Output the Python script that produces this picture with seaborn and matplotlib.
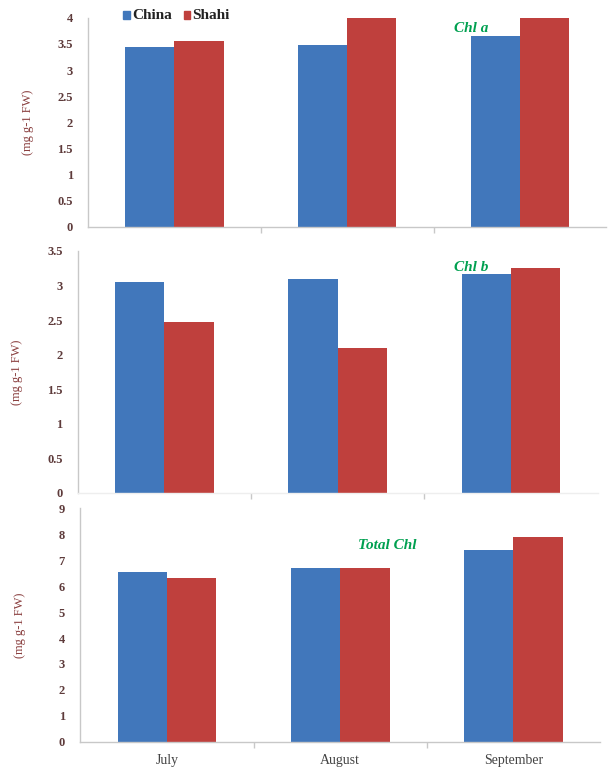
import numpy as np
import pandas as pd
import seaborn as sns
import matplotlib.pyplot as plt
from matplotlib.patches import Rectangle

# Data
months = ["July", "August", "September"]
varieties = ["China", "Shahi"]
chl_a_china = [3.44, 3.48, 3.66]
chl_a_shahi = [3.56, 4.20, 4.30]
chl_b_china = [3.05, 3.10, 3.17]
chl_b_shahi = [2.47, 2.10, 3.26]
total_china = [6.54, 6.69, 7.38]
total_shahi = [6.31, 6.69, 7.88]

panel_titles = ["Chl a", "Chl b", "Total Chl"]
y_limits = [4, 3.5, 9]
y_steps = [0.5, 0.5, 1]

colors = {"China": "#4177BB", "Shahi": "#BF403D"}
label_col = "#5E3B3B"
ylab_col = "#8A3F3F"
spine_col = "#C8C8C8"

sns.set_theme(style="white")
plt.rcParams['font.family'] = ['Liberation Serif', 'DejaVu Serif']

def make_df(china, shahi):
    return pd.DataFrame({
        "month": months * 2,
        "variety": ["China"] * 3 + ["Shahi"] * 3,
        "value": china + shahi,
    })

frames = [make_df(chl_a_china, chl_a_shahi),
          make_df(chl_b_china, chl_b_shahi),
          make_df(total_china, total_shahi)]

fig = plt.figure(figsize=(6.08, 7.72), dpi=100)
# axes boxes in figure fractions: left, bottom, width, height
boxes = [[0.145, 0.706, 0.852, 0.271],
         [0.128, 0.3614, 0.855, 0.3135],
         [0.132, 0.0389, 0.855, 0.303]]
# annotation positions in data coords
ann_pos = [(1.62, 3.8), (1.67, 3.26), (1.10, 7.55)]

for i, df in enumerate(frames):
    ax = fig.add_axes(boxes[i])
    sns.barplot(data=df, x="month", y="value", hue="variety", palette=colors,
                width=0.57, saturation=1, ax=ax, legend=False,
                errorbar=None, edgecolor="none")
    ax.set_xlim(-0.5, 2.5)
    ax.set_ylim(0, y_limits[i])
    ticks = np.arange(0, y_limits[i] + 0.01, y_steps[i])
    ax.set_yticks(ticks)
    ax.set_yticklabels([f"{t:g}" for t in ticks], fontsize=9, color=label_col,
                       fontweight="bold")
    ax.set_xlabel("")
    ax.set_ylabel("(mg g-1 FW)", fontsize=9, color=ylab_col)
    ax.yaxis.set_label_coords(-0.105, 0.5)
    ax.tick_params(axis="y", direction="out", length=3, color=spine_col, pad=8)
    # category separators on x axis
    ax.set_xticks([0.5, 1.5], minor=True)
    ax.tick_params(axis="x", which="minor", direction="out", length=4,
                   color=spine_col, bottom=True)
    ax.tick_params(axis="x", which="major", length=0)
    if i < 2:
        ax.set_xticklabels([])
    else:
        ax.set_xticklabels(months, fontsize=10, color="#444444")
        ax.tick_params(axis="x", which="major", pad=9)
    for s in ["top", "right"]:
        ax.spines[s].set_visible(False)
    for s in ["left", "bottom"]:
        ax.spines[s].set_color(spine_col)
        ax.spines[s].set_linewidth(1.0)
    if i == 1:
        ax.spines["bottom"].set_color("#EEEEEE")
    ax.text(ann_pos[i][0], ann_pos[i][1], panel_titles[i], color="#00A050",
            fontsize=11, fontweight="bold", fontstyle="italic", ha="left",
            va="center", zorder=10)

# legend drawn at the top like the original
legend_items = [("China", 0.203), ("Shahi", 0.302)]
for name, x in legend_items:
    fig.patches.append(Rectangle((x, 0.975), 0.011, 0.011, color=colors[name],
                                 transform=fig.transFigure, figure=fig))
    fig.text(x + 0.014, 0.980, name, fontsize=11, fontweight="bold",
             color="#222222", va="center", ha="left")

fig.savefig("out.png", dpi=100)
